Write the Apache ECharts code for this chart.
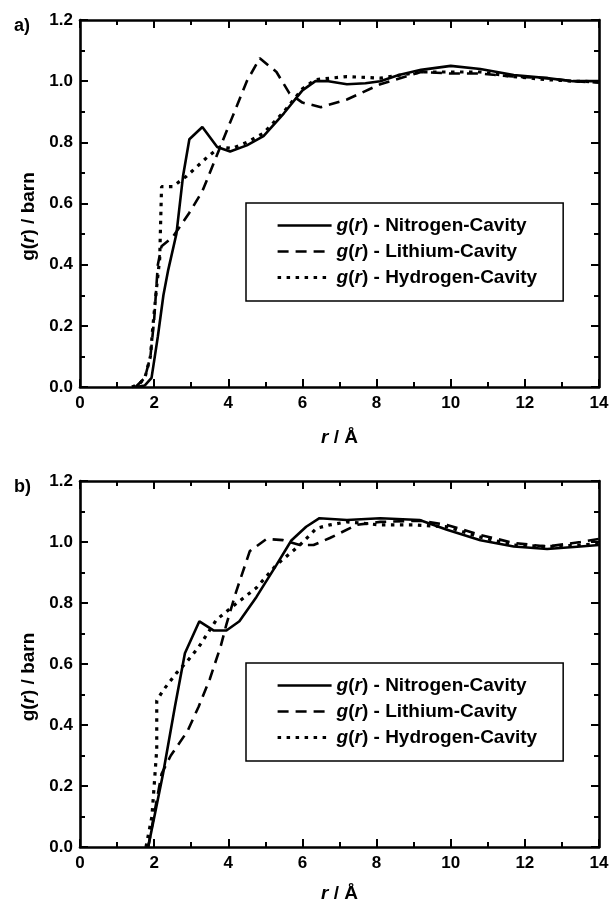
<!DOCTYPE html>
<html>
<head>
<meta charset="utf-8">
<script src="https://cdn.jsdelivr.net/npm/echarts@6/dist/echarts.min.js"></script>
<style>
html,body{margin:0;padding:0;background:#fff;width:612px;height:903px;overflow:hidden;}
#c{width:612px;height:903px;}
</style>
</head>
<body>
<div id="c"></div>
<script>
// ---- data (r in Å, g(r)) ----
var seriesNames = ['Nitrogen-Cavity', 'Lithium-Cavity', 'Hydrogen-Cavity'];
var xTicks = [0, 2, 4, 6, 8, 10, 12, 14];
var yTicks = [0.0, 0.2, 0.4, 0.6, 0.8, 1.0, 1.2];
var panelLabels = ['a)', 'b)'];

// panel a
var aNitrogen = [[1.5,0],[1.75,0.005],[1.93,0.03],[2.1,0.165],[2.25,0.3],[2.38,0.383],[2.6,0.5],[2.78,0.69],[2.95,0.81],[3.3,0.85],[3.7,0.785],[4.05,0.77],[4.5,0.79],[4.95,0.82],[5.5,0.895],[6.0,0.97],[6.35,1.0],[6.7,1.0],[7.2,0.99],[7.7,0.993],[8.1,1.0],[8.6,1.02],[9.2,1.037],[10.0,1.05],[10.8,1.04],[11.7,1.02],[12.6,1.01],[13.3,1.0],[14,1.0]];
var aLithium = [[1.5,0],[1.75,0.03],[1.9,0.1],[2.0,0.22],[2.1,0.4],[2.2,0.46],[2.5,0.49],[2.95,0.57],[3.3,0.64],[3.6,0.73],[4.1,0.88],[4.5,1.0],[4.85,1.075],[5.3,1.03],[5.65,0.96],[6.0,0.93],[6.5,0.915],[7.2,0.94],[8.1,0.99],[9.2,1.03],[10.0,1.025],[10.8,1.025],[11.7,1.015],[12.6,1.01],[13.3,1.0],[14,0.995]];
var aHydrogen = [[1.4,0],[1.6,0.01],[1.75,0.03],[1.9,0.1],[1.96,0.19],[2.07,0.33],[2.15,0.42],[2.2,0.655],[2.5,0.655],[2.88,0.69],[3.42,0.75],[3.77,0.785],[4.1,0.78],[4.5,0.8],[4.95,0.83],[5.5,0.9],[6.0,0.975],[6.35,1.005],[7.2,1.015],[8.1,1.01],[9.2,1.03],[10.0,1.03],[10.8,1.03],[11.7,1.015],[12.6,1.005],[13.3,1.0],[14,0.998]];

// panel b
var bNitrogen = [[1.84,0],[2.24,0.24],[2.56,0.46],[2.83,0.635],[3.22,0.74],[3.6,0.71],[3.95,0.71],[4.3,0.74],[4.76,0.82],[5.3,0.925],[5.7,1.005],[6.1,1.05],[6.46,1.078],[7.2,1.072],[8.1,1.078],[9.16,1.072],[9.9,1.04],[10.8,1.006],[11.7,0.985],[12.6,0.977],[13.5,0.985],[14,0.99]];
var bLithium = [[1.84,0],[2.2,0.24],[2.45,0.3],[2.9,0.38],[3.2,0.46],[3.5,0.55],[3.8,0.66],[3.95,0.73],[4.22,0.84],[4.58,0.97],[5.03,1.01],[5.48,1.006],[5.93,0.99],[6.3,0.99],[6.74,1.013],[7.46,1.056],[8.1,1.066],[9.16,1.07],[9.9,1.056],[10.8,1.023],[11.7,0.997],[12.6,0.985],[13.5,1.0],[14,1.01]];
var bHydrogen = [[1.78,0],[1.94,0.1],[2.0,0.2],[2.07,0.32],[2.07,0.48],[2.25,0.515],[2.6,0.57],[2.9,0.61],[3.2,0.655],[3.68,0.745],[4.13,0.79],[4.76,0.85],[5.3,0.925],[5.93,0.99],[6.38,1.045],[6.74,1.056],[7.2,1.066],[8.1,1.056],[9.0,1.056],[9.9,1.05],[10.8,1.016],[11.7,0.99],[12.6,0.985],[13.5,0.99],[14,0.995]];

var panelData = [[aNitrogen, aLithium, aHydrogen], [bNitrogen, bLithium, bHydrogen]];

// ---- styles ----
var FONT = 'Liberation Sans, Arial, sans-serif';
var lineStyles = [
  {color:'#000', width:2.6, type:'solid'},
  {color:'#000', width:2.6, type:[11,7], cap:'butt'},
  {color:'#000', width:3.2, type:[3.5,5.5], cap:'butt'}
];
var grids = [
  {left:80, top:20, width:519, height:367, outerBoundsMode:'none', containLabel:false},
  {left:80, top:481, width:519, height:366, outerBoundsMode:'none', containLabel:false}
];
var xNameGaps = [41, 37];
var legendPos = [{left:246, top:203}, {left:246, top:663}];

var xMin = xTicks[0], xMax = xTicks[xTicks.length-1], xInt = xTicks[1]-xTicks[0];
var yMin = yTicks[0], yMax = yTicks[yTicks.length-1], yInt = +(yTicks[1]-yTicks[0]).toFixed(2);

function richStyle(sz){
  return {i:{fontStyle:'italic', fontWeight:'bold', fontSize:sz, fontFamily:FONT, color:'#000'},
          n:{fontWeight:'bold', fontSize:sz, fontFamily:FONT, color:'#000'}};
}

function axisCommon(){
  return {
    axisLine:{show:true, onZero:false, lineStyle:{color:'#000', width:2.6}},
    axisTick:{show:true, inside:true, length:8, lineStyle:{color:'#000', width:2}},
    minorTick:{show:true, splitNumber:2, length:5, lineStyle:{color:'#000', width:2}},
    splitLine:{show:false}
  };
}

var option = {
  backgroundColor:'#fff',
  animation:false,
  textStyle:{fontFamily:FONT},
  title: panelLabels.map(function(t,i){
    return {text:t, left:9, top: i===0 ? 12 : 473, textStyle:{fontFamily:FONT, fontWeight:'bold', fontSize:18, color:'#000'}};
  }),
  grid: grids,
  xAxis: [],
  yAxis: [],
  legend: [],
  series: []
};

grids.forEach(function(g, gi){
  var xb = Object.assign(axisCommon(), {
    type:'value', gridIndex:gi, position:'bottom', min:xMin, max:xMax, interval:xInt,
    axisLabel:{show:true, margin:8, color:'#000', fontFamily:FONT, fontWeight:'bold', fontSize:17},
    name:'{i|r}{n| / Å}', nameLocation:'middle', nameGap:xNameGaps[gi],
    nameTextStyle:{color:'#000', fontFamily:FONT, fontSize:19, fontWeight:'bold', rich:richStyle(19)}
  });
  var xt = Object.assign(axisCommon(), {
    type:'value', gridIndex:gi, position:'top', min:xMin, max:xMax, interval:xInt,
    axisLabel:{show:false}
  });
  var yl = Object.assign(axisCommon(), {
    type:'value', gridIndex:gi, position:'left', min:yMin, max:yMax, interval:yInt,
    axisLabel:{show:true, margin:7, color:'#000', fontFamily:FONT, fontWeight:'bold', fontSize:17,
      formatter:function(v){return v.toFixed(1);}},
    name:'{n|g(}{i|r}{n|) / barn}', nameLocation:'middle', nameGap:36,
    nameTextStyle:{color:'#000', fontFamily:FONT, fontSize:19, fontWeight:'bold', padding:[0,26,0,0], rich:richStyle(19)}
  });
  var yr = Object.assign(axisCommon(), {
    type:'value', gridIndex:gi, position:'right', min:yMin, max:yMax, interval:yInt,
    axisLabel:{show:false}
  });
  var xi = option.xAxis.length;
  option.xAxis.push(xb, xt);
  var yi = option.yAxis.length;
  option.yAxis.push(yl, yr);

  panelData[gi].forEach(function(d, si){
    option.series.push({
      type:'line', name:seriesNames[si], xAxisIndex:xi, yAxisIndex:yi,
      data:d, showSymbol:false, symbol:'none', smooth:false,
      lineStyle:lineStyles[si], itemStyle:{color:'#000'}, z:3+si
    });
  });

  option.legend.push({
    data:seriesNames.map(function(n, i){
      return {name:n, lineStyle:{width:lineStyles[i].width}};
    }),
    orient:'vertical', left:legendPos[gi].left, top:legendPos[gi].top,
    padding:[13,26,14,30], itemWidth:54, itemHeight:20, itemGap:7,
    borderColor:'#000', borderWidth:1.5, backgroundColor:'#fff',
    selectedMode:false,
    itemStyle:{opacity:0},
    formatter:function(name){ return '{i|g}{n|(}{i|r}{n|) - ' + name + '}'; },
    textStyle:{color:'#000', fontFamily:FONT, fontSize:19, fontWeight:'bold', rich:richStyle(19)}
  });
});

var chart = echarts.init(document.getElementById('c'), null, {renderer:'canvas'});
chart.setOption(option);
</script>
</body>
</html>
